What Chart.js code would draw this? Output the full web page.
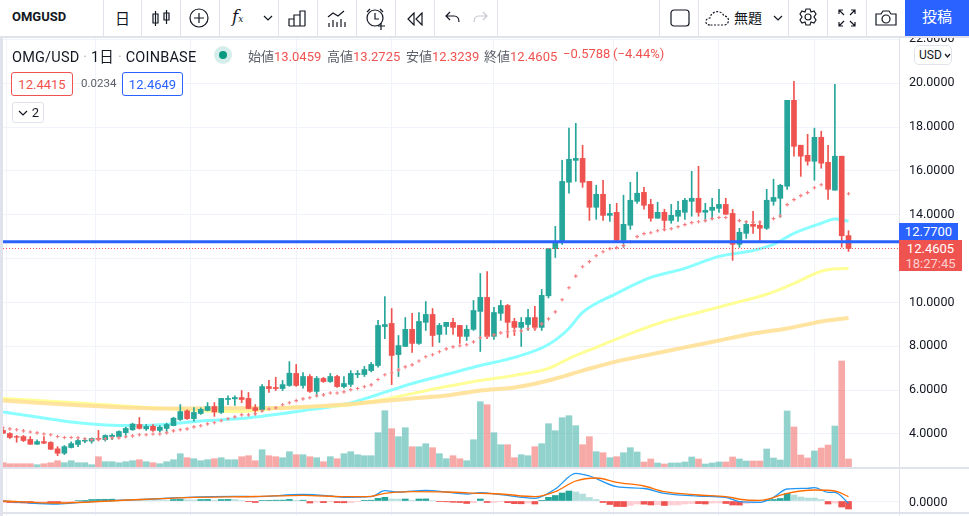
<!DOCTYPE html>
<html lang="ja">

<head>
    <meta charset="utf-8" />
    <title>OMGUSD</title>
    <script src="https://cdn.jsdelivr.net/npm/chart.js"></script>
    <style>
        html, body { margin: 0; padding: 0; background: #fff; overflow: hidden; }
        body { width: 969px; height: 516px; position: relative; font-family: Roboto, "Noto Sans CJK JP", sans-serif; color: #131722; }
        canvas { position: absolute; left: 0; top: 0; }
        .abs { position: absolute; white-space: nowrap; }
        #toolbar { position: absolute; left: 0; top: 0; width: 969px; height: 36px; background: #fff; border-bottom: 2px solid #e0e3eb; }
        .sep { position: absolute; top: 0; width: 1px; height: 36px; background: #e0e3eb; }
        .red { color: #ef5350; }
        .lbl { color: #5d606b; }
        .box { position: absolute; box-sizing: border-box; border-radius: 3px; text-align: center; background: #fff; font-size: 13px; }
        svg { position: absolute; fill: none; stroke: #131722; stroke-width: 1.2; }
    </style>
</head>

<body>
    <canvas id="chart" width="969" height="516"></canvas>

    <div class="abs" style="left:0;top:38px;width:3px;height:478px;background:#e0e3eb"></div>
    <div class="abs" style="left:899px;top:38px;width:1px;height:478px;background:#e0e3eb"></div>
    <div class="abs" style="left:3px;top:467px;width:966px;height:2px;background:#e0e3eb"></div>
    <div class="abs" style="left:3px;top:512px;width:966px;height:2px;background:#e0e3eb"></div>
    <div class="abs" style="left:909px;top:494px;font-size:12.5px;line-height:15px">0.0000</div>

    <div id="toolbar">
        <div class="abs" style="left:12px;top:9px;font-size:13px;font-weight:700">OMGUSD</div>
        <div class="abs" style="left:115px;top:7px;font-size:15px">日</div>
        <div class="sep" style="left:103px"></div><div class="sep" style="left:141px"></div>
        <div class="sep" style="left:180px"></div><div class="sep" style="left:219px"></div>
        <div class="sep" style="left:278px"></div><div class="sep" style="left:317px"></div>
        <div class="sep" style="left:356px"></div><div class="sep" style="left:395px"></div>
        <div class="sep" style="left:434px"></div><div class="sep" style="left:497px"></div>
        <div class="sep" style="left:659px"></div><div class="sep" style="left:698px"></div>
        <div class="sep" style="left:788px"></div><div class="sep" style="left:827px"></div>
        <div class="sep" style="left:866px"></div>

        <svg style="left:152px;top:8px" width="20" height="20"><path d="M3.5 3v15M1 6h5v9H1zM14.5 2v14M12 5h5v7h-5z" /></svg>
        <svg style="left:189px;top:8px" width="21" height="21"><circle cx="10" cy="10" r="9" /><path d="M10 5v10M5 10h10" /></svg>
        <div class="abs" style="left:232px;top:6px;font-size:17px;font-style:italic;font-family:'DejaVu Serif'">f<span style="font-size:9px">x</span></div>
        <svg style="left:263px;top:15px" width="10" height="7"><path d="M1 1l4 4 4-4" /></svg>
        <svg style="left:288px;top:9px" width="20" height="18"><path d="M1 17V10h5v7M6 17V6h6v11M12 17V2h5v15M1 17h16" /></svg>
        <svg style="left:327px;top:8px" width="20" height="20"><path d="M1 9l5-4 5 3 6-5M2 19v-4M6 19v-7M10 19v-5M14 19v-8M18 19v-5" /></svg>
        <svg style="left:365px;top:8px" width="22" height="22"><circle cx="10" cy="10" r="8" /><path d="M10 5v6h4M2 4l3-3M15 1l3 3M16 15v7M13 18h7" /></svg>
        <svg style="left:407px;top:12px" width="17" height="14"><path d="M7 1L1 7l6 6zM15 1L9 7l6 6z" /></svg>
        <svg style="left:445px;top:11px" width="16" height="13"><path d="M5 1L1 5l4 4M1 5h8c3 0 5 2 5 6" /></svg>
        <svg style="left:472px;top:11px;stroke:#c8cad1" width="16" height="13"><path d="M11 1l4 4-4 4M15 5H7c-3 0-5 2-5 6" /></svg>

        <svg style="left:670px;top:9px" width="20" height="19"><rect x="1" y="1" width="18" height="16" rx="3" /></svg>
        <svg style="left:705px;top:9px;stroke-dasharray:2 1.5" width="26" height="18"><path d="M5 16c-6 0-5-7 0-7 1-7 11-9 14-2 6 0 6 9 0 9z" /></svg>
        <div class="abs" style="left:734px;top:7px;font-size:14px">無題</div>
        <svg style="left:773px;top:15px" width="10" height="7"><path d="M1 1l4 4 4-4" /></svg>
        <svg style="left:797px;top:8px" width="22" height="22"><path d="M9 1h4l1 3 3-1 2 3-2 3 2 3-2 3-3-1-1 3H9l-1-3-3 1-2-3 2-3-2-3 2-3 3 1z" /><circle cx="11" cy="9" r="3" /></svg>
        <svg style="left:838px;top:9px" width="18" height="18"><path d="M1 5V1h4M13 1h4v4M17 13v4h-4M5 17H1v-4M1 1l5 5M17 1l-5 5M17 17l-5-5M1 17l5-5" /></svg>
        <svg style="left:875px;top:9px" width="22" height="18"><path d="M1 5h5l2-3h6l2 3h5v11H1z" /><circle cx="11" cy="10" r="4" /></svg>
        <div class="abs" style="left:905px;top:0;width:64px;height:36px;background:#2962ff;color:#fff;text-align:center;font-size:15px;line-height:35px">投稿</div>
    </div>

    <div class="abs" style="left:12px;top:45px;font-size:14.5px;letter-spacing:.2px">OMG/USD <span style="color:#b2b5be">·</span> 1日 <span style="color:#b2b5be">·</span> COINBASE</div>
    <div class="abs" style="left:214px;top:46px;width:18px;height:18px;border-radius:9px;background:#d6eeeb"></div>
    <div class="abs" style="left:219px;top:51px;width:8px;height:8px;border-radius:4px;background:#089981"></div>
    <div class="abs" style="left:248px;top:46px;font-size:13px"><span class="lbl">始値</span><span class="red">13.0459</span></div>
    <div class="abs" style="left:327px;top:46px;font-size:13px"><span class="lbl">高値</span><span class="red">13.2725</span></div>
    <div class="abs" style="left:406px;top:46px;font-size:13px"><span class="lbl">安値</span><span class="red">12.3239</span></div>
    <div class="abs" style="left:484px;top:46px;font-size:13px"><span class="lbl">終値</span><span class="red">12.4605</span></div>
    <div class="abs red" style="left:563px;top:46px;font-size:13px">−0.5788</div>
    <div class="abs red" style="left:613px;top:46px;font-size:13px">(−4.44%)</div>

    <div class="box red" style="left:11px;top:72px;width:62px;height:24px;border:1px solid #ef5350;line-height:23px">12.4415</div>
    <div class="abs lbl" style="left:81px;top:76px;font-size:11.5px">0.0234</div>
    <div class="box" style="left:122px;top:72px;width:61px;height:24px;border:1px solid #2962ff;color:#2962ff;line-height:23px">12.4649</div>
    <div class="box" style="left:12px;top:102px;width:32px;height:21px;border:1px solid #e0e3eb;line-height:20px">
        <svg style="left:5px;top:7px" width="10" height="7"><path d="M1 1l4 4 4-4" /></svg><span style="margin-left:15px">2</span>
    </div>
    <div class="box" style="left:914px;top:45px;width:38px;height:20px;border:1px solid #e0e3eb;border-radius:5px;font-size:12px;line-height:19px;text-align:left;padding-left:4px">USD<svg style="left:29px;top:7px" width="7" height="6"><path d="M1 1l2.5 3L6 1" /></svg></div>

    <div class="abs" style="left:899px;top:223px;width:59px;height:17px;background:#2962ff;color:#fff;font-size:13px;line-height:17px;text-align:center">12.7700</div>
    <div class="abs" style="left:899px;top:240px;width:63px;height:31px;background:#ef5350;color:#fff;font-size:13px;line-height:15px;text-align:center;padding-top:1px;box-sizing:border-box">12.4605<br><span style="color:#fbd0cf">18:27:45</span></div>

    <script>
        var opens = [4.16, 4.02, 3.88, 3.88, 3.75, 3.53, 3.65, 3.61, 3.32, 3.12,
            3.38, 3.52, 3.67, 3.67, 3.79, 3.74, 3.88, 3.88, 4.06, 4.19,
            4.43, 4.23, 4.35, 4.16, 4.25, 4.38, 4.66, 5.05, 4.70, 4.93,
            5.07, 5.25, 4.98, 5.57, 5.60, 5.66, 5.62, 5.20, 5.11, 6.16,
            6.12, 6.07, 6.21, 6.76, 6.21, 6.62, 5.94, 6.53, 6.39, 6.62,
            6.16, 6.26, 6.71, 6.71, 6.89, 7.12, 8.90, 9.04, 7.62, 7.99,
            8.77, 8.13, 9.09, 9.45, 8.54, 8.90, 9.09, 8.95, 8.45, 8.77,
            9.59, 10.23, 8.45, 9.50, 9.86, 9.13, 8.86, 8.99, 9.31, 8.86,
            10.30, 12.45, 12.74, 15.48, 16.48, 16.57, 15.52, 14.34, 14.93, 13.97,
            14.11, 12.83, 13.52, 14.61, 15.02, 14.47, 13.84, 14.11, 13.74, 13.93,
            14.11, 14.61, 14.75, 14.11, 14.20, 14.29, 14.47, 14.06, 12.65, 13.15,
            13.56, 13.52, 13.38, 14.61, 14.75, 15.30, 19.22, 17.17, 16.71, 16.44,
            17.53, 16.39, 15.12, 16.67, 13.0459];
        var highs = [4.23, 4.06, 3.93, 3.93, 3.88, 3.73, 3.88, 3.65, 3.42, 3.47,
            3.64, 3.75, 3.80, 3.82, 4.16, 3.96, 4.00, 4.14, 4.31, 4.49,
            4.75, 4.43, 4.43, 4.38, 4.49, 4.76, 5.34, 5.10, 5.20, 5.19,
            5.43, 5.43, 5.62, 5.74, 5.74, 5.98, 5.89, 5.34, 6.25, 6.44,
            6.58, 6.44, 7.30, 7.17, 6.80, 6.71, 6.62, 6.58, 6.76, 6.67,
            6.62, 6.89, 6.89, 7.08, 7.26, 9.18, 10.27, 9.72, 8.49, 9.31,
            9.50, 9.54, 10.04, 9.72, 9.04, 9.09, 9.27, 8.95, 8.95, 10.09,
            11.32, 11.41, 9.77, 10.09, 9.91, 9.27, 9.31, 9.68, 9.82, 10.59,
            12.45, 13.47, 16.48, 17.95, 18.17, 17.17, 15.52, 15.34, 15.57, 14.47,
            14.52, 14.89, 15.48, 15.94, 15.25, 14.70, 14.57, 14.25, 14.47, 14.61,
            14.75, 15.98, 16.21, 14.52, 14.75, 15.16, 14.75, 14.25, 13.38, 13.70,
            14.16, 13.70, 15.16, 15.62, 15.39, 19.22, 20.09, 17.17, 17.67, 17.95,
            17.81, 17.17, 19.95, 16.67, 13.2725];
        var lows = [4.03, 3.79, 3.62, 3.65, 3.52, 3.52, 3.55, 3.29, 3.01, 3.06,
            3.36, 3.42, 3.60, 3.58, 3.70, 3.67, 3.74, 3.88, 3.85, 4.16,
            4.22, 4.16, 4.11, 4.08, 4.08, 4.37, 4.61, 4.66, 4.58, 4.89,
            5.05, 4.80, 4.93, 5.34, 5.30, 5.43, 5.16, 4.86, 5.01, 5.89,
            5.98, 5.98, 6.17, 6.17, 6.09, 5.89, 5.71, 6.35, 6.35, 6.12,
            6.10, 6.16, 6.57, 6.62, 6.83, 7.05, 8.35, 6.25, 6.62, 7.99,
            7.72, 8.08, 8.72, 7.99, 8.17, 8.54, 8.54, 8.13, 8.26, 8.72,
            7.76, 8.35, 8.31, 9.18, 8.40, 8.49, 7.99, 8.72, 8.72, 8.72,
            10.20, 12.05, 12.65, 14.98, 15.52, 15.25, 13.74, 13.79, 13.74, 13.70,
            12.83, 12.51, 13.33, 14.52, 14.25, 13.70, 13.84, 13.29, 13.61, 13.70,
            13.79, 13.93, 13.93, 13.70, 13.79, 14.11, 14.02, 11.92, 12.51, 12.92,
            13.15, 12.83, 13.33, 14.43, 13.88, 15.16, 16.67, 15.75, 16.26, 15.57,
            16.12, 14.70, 15.12, 12.52, 12.3239];
        var closes = [4.03, 3.84, 3.85, 3.70, 3.53, 3.65, 3.58, 3.30, 3.12, 3.42,
            3.56, 3.70, 3.71, 3.79, 3.76, 3.93, 3.94, 4.11, 4.25, 4.45,
            4.25, 4.34, 4.16, 4.31, 4.43, 4.72, 5.02, 4.70, 4.98, 5.12,
            5.25, 5.00, 5.62, 5.62, 5.66, 5.57, 5.16, 5.07, 6.16, 6.07,
            6.07, 6.25, 6.77, 6.21, 6.62, 5.94, 6.53, 6.39, 6.62, 6.16,
            6.30, 6.76, 6.76, 6.94, 7.17, 8.95, 8.99, 7.58, 8.03, 8.77,
            8.13, 9.13, 9.45, 8.49, 8.95, 9.09, 8.86, 8.45, 8.77, 9.63,
            10.23, 8.45, 9.54, 9.86, 9.09, 8.86, 9.09, 9.31, 8.86, 10.32,
            12.45, 12.74, 15.52, 16.53, 16.57, 15.48, 14.34, 14.93, 13.97, 14.06,
            12.83, 13.56, 14.66, 14.98, 14.43, 13.84, 14.11, 13.74, 13.97, 14.20,
            14.66, 14.75, 14.11, 14.20, 14.34, 14.47, 14.02, 12.65, 13.20, 13.56,
            13.47, 13.38, 14.66, 14.79, 15.34, 19.22, 17.12, 16.67, 16.44, 17.53,
            16.35, 15.16, 16.67, 13.04, 12.4605];
        var volumes = [5.3, 4.3, 4.3, 4.3, 4.3, 3.3, 4.3, 5.3, 7.3, 5.3,
            7.3, 5.3, 5.3, 3.3, 11.3, 6.3, 6.3, 5.3, 6.3, 7.3,
            8.3, 6.3, 5.3, 4.3, 6.3, 8.3, 14.3, 10.3, 9.3, 7.3,
            8.3, 9.3, 10.3, 8.3, 8.3, 11.3, 12.3, 7.3, 18.3, 12.3,
            11.3, 10.3, 16.3, 13.3, 13.3, 11.3, 10.3, 6.3, 11.3, 9.3,
            14.3, 16.3, 13.3, 12.3, 12.3, 35.3, 57.3, 39.3, 31.3, 40.3,
            21.3, 21.3, 24.3, 20.3, 14.3, 9.3, 12.3, 9.3, 7.3, 28.3,
            66.3, 63.3, 35.3, 23.3, 23.3, 10.3, 13.3, 12.3, 21.3, 24.3,
            44.3, 37.3, 50.3, 52.3, 42.3, 23.3, 31.3, 16.3, 15.3, 10.3,
            11.3, 15.3, 20.3, 16, 6, 9, 5, 4, 5, 5,
            6, 11, 9, 4, 5, 6, 6, 11, 9, 7,
            7, 7, 19, 10, 8, 57, 41, 13, 10, 17,
            20, 23, 42, 107, 9];
        var sar = [4.28, 4.23, 4.19, 4.14, 4.09, 4.05, 4.00, 3.96, 3.88, 3.84,
            3.84, 3.82, 3.78, 3.74, 3.74, 3.78, 3.82, 3.82, 3.87, 3.91,
            3.96, 3.96, 4.00, 4.00, 4.05, 4.14, 4.19, 4.23, 4.32, 4.37,
            4.46, 4.51, 4.60, 4.69, 4.78, 4.87, 4.87, 4.92, 5.05, 5.14,
            5.19, 5.33, 5.42, 5.52, 5.60, 5.65, 5.74, 5.78, 5.87, 5.87,
            5.92, 6.02, 6.07, 6.15, 6.24, 6.48, 6.70, 6.79, 6.92, 7.06,
            7.15, 7.33, 7.52, 7.61, 7.75, 7.88, 7.97, 8.02, 8.07, 8.20,
            8.39, 8.43, 8.52, 8.61, 8.66, 8.70, 8.70, 8.80, 8.80, 9.02,
            9.25, 9.57, 10.12, 10.67, 11.20, 11.63, 11.86, 12.13, 12.31, 12.45,
            12.50, 12.59, 12.77, 13.00, 13.14, 13.18, 13.27, 13.32, 13.36, 13.45,
            13.55, 13.64, 13.68, 13.73, 13.82, 13.87, 13.87, null, 13.73, 13.68,
            13.65, 13.67, null, 13.82, 13.94, 14.46, 14.69, 14.87, 15.01, 15.23,
            15.37, null, null, null, 14.96];
        var macdHist = [-1.0, -1.6, -1.8, -2.0, -2.2, -1.5, -1.2, -2.0, -2.2, -1.8,
            -0.7, 0.5, 0.7, 1.5, 1.6, 1.7, 1.8, 1.2, 1.1, 1.0,
            0.8, 0.7, 0.6, 0.5, 0.4, 1.5, 1.6, 1.2, 1.0, 1.5,
            1.6, 0.6, 1.5, 1.6, 1.4, 0.5, -0.7, -1.5, 0.6, 0.7,
            0.8, 0.9, 1.6, 0.7, 0.8, -2.0, -1.0, -1.7, -0.7, -1.7,
            -1.8, -1.6, -0.7, 0.7, 0.8, 2.7, 3.7, 2.0, 1.9, 2.0,
            0.7, 2.0, 2.1, 0.5, -0.7, -0.8, -1.3, -1.5, -2.5, -1.7,
            2.0, -1.5, -1.4, -0.7, -1.7, -2.7, -2.8, -2.0, -3.0, 0.7,
            3.7, 5.5, 8.0, 10.0, 9.0, 7.0, 3.5, 1.5, -1.5, -3.5,
            -5.5, -5.6, -4.5, -3.0, -3.2, -4.0, -3.8, -4.5, -4.0, -3.9,
            -3.0, -2.5, -2.6, -3.0, -2.0, -1.9, -2.5, -4.0, -4.1, -2.5,
            -2.0, -1.0, 0.7, 1.5, 2.5, 7.5, 6.0, 4.0, 3.0, 2.9,
            1.5, -3.0, -2.0, -6.0, -8.0];

        var cyanDays = [0, 5, 10, 15, 20, 25, 30, 35, 40, 45, 50, 55, 60, 65, 70, 75, 80, 83, 85, 90, 95, 100, 105, 110, 113, 116, 120, 122, 124];
        var cyanMa = [5.0, 4.77, 4.54, 4.41, 4.38, 4.47, 4.61, 4.70, 4.89, 5.11, 5.34, 5.80, 6.30, 6.71, 7.12, 7.49, 8.08, 8.81, 9.54, 10.41, 11.14, 11.55, 12.10, 12.37, 12.65, 13.15, 13.61, 13.80, 13.71];
        var yellowDays = [0, 10, 20, 30, 35, 40, 45, 50, 55, 60, 65, 70, 75, 80, 83, 87, 92, 97, 102, 107, 112, 116, 120, 122, 124];
        var yellowMa = [5.62, 5.43, 5.23, 5.05, 5.02, 5.16, 5.25, 5.30, 5.53, 5.84, 6.16, 6.44, 6.67, 6.99, 7.44, 7.95, 8.58, 9.13, 9.54, 9.95, 10.37, 10.87, 11.42, 11.53, 11.55];
        var orangeDays = [0, 8, 15, 25, 40, 50, 55, 60, 65, 70, 75, 80, 85, 90, 95, 100, 105, 110, 115, 120, 124];
        var orangeMa = [5.53, 5.36, 5.25, 5.16, 5.18, 5.34, 5.48, 5.62, 5.75, 5.98, 6.12, 6.44, 6.89, 7.31, 7.63, 7.95, 8.26, 8.58, 8.81, 9.13, 9.29];
        var macdDays = [0, 4, 8, 12, 17, 22, 27, 34, 37, 44, 48, 50, 54, 56, 58, 62, 65, 68, 70, 73, 78, 81, 84, 86, 90, 94, 97, 102, 106, 108, 111, 113, 115, 118, 119, 121, 122, 124];
        var macdLine = [0, -2, -3, -1, 0.7, 2, 3.7, 4.7, 4.3, 6.5, 5, 3.7, 4.3, 10.3, 9, 10.7, 9, 7, 8.3, 6.3, 2.7, 12, 27.7, 25, 14.3, 12.5, 7.7, 5, 3.7, -0.7, -1.3, 3.7, 12, 12.7, 13.3, 8.7, 8.7, -2.3];
        var signalDays = [0, 8, 17, 27, 37, 44, 50, 54, 56, 60, 65, 70, 73, 78, 81, 84, 87, 90, 94, 97, 102, 106, 109, 111, 115, 119, 122, 124];
        var signalLine = [0, -2, 0.5, 3.3, 4.5, 5.7, 4.3, 4.7, 7.7, 9.3, 9, 7.7, 7, 4.3, 9.3, 20, 23, 18.7, 15, 9.3, 6, 4.3, 1, 0.7, 7.7, 11, 10, 4.3];

        var priceTicks = [4, 6, 8, 10, 12, 14, 16, 18, 20, 22];
        var gridDays = [7, 20, 35, 51, 63, 81, 98, 112, 126];
        var markedPrice = 12.77;
        var lastClose = 12.4605;

        var green = '#26a69a', red = '#ef5350';
        var xMax = 131.55;

        function pairs(days, values) {
            return days.map(function (d, i) { return { x: d, y: values[i] }; });
        }

        function histColor(ctx) {
            var i = ctx.dataIndex;
            var v = macdHist[i], prev = i > 0 ? macdHist[i - 1] : 0;
            if (v >= 0) return v >= prev ? green : '#b2dfdb';
            return v < prev ? red : '#ffcdd2';
        }

        function isUp(i) { return closes[i] >= opens[i]; }

        function maLine(days, values, color, width) {
            return {
                type: 'line', yAxisID: 'y', order: 5, data: pairs(days, values),
                borderColor: color, borderWidth: width, pointRadius: 0, cubicInterpolationMode: 'monotone'
            };
        }

        function fixedTicks(values) {
            return function (axis) { axis.ticks = values.map(function (v) { return { value: v }; }); };
        }

        var datasets = [
            {
                type: 'bar', yAxisID: 'vol', order: 9, barThickness: 6,
                data: volumes.map(function (v, i) { return { x: i, y: v }; }),
                backgroundColor: volumes.map(function (v, i) { return isUp(i) ? 'rgba(38,166,154,.5)' : 'rgba(239,83,80,.5)'; })
            },
            {
                type: 'bar', yAxisID: 'macd', order: 8, barThickness: 6,
                data: macdHist.map(function (v, i) { return { x: i, y: v }; }),
                backgroundColor: histColor
            },
            maLine(orangeDays, orangeMa, 'rgba(255,224,150,.9)', 4),
            maLine(yellowDays, yellowMa, 'rgba(255,255,141,.9)', 3),
            maLine(cyanDays, cyanMa, 'rgba(132,255,255,.95)', 3),
            {
                type: 'line', yAxisID: 'macd', order: 6, data: pairs(macdDays, macdLine),
                borderColor: '#2196f3', borderWidth: 1.3, pointRadius: 0, cubicInterpolationMode: 'monotone'
            },
            {
                type: 'line', yAxisID: 'macd', order: 5, data: pairs(signalDays, signalLine),
                borderColor: '#ff6d00', borderWidth: 1.3, pointRadius: 0, cubicInterpolationMode: 'monotone'
            },
            {
                type: 'bar', yAxisID: 'y', order: 4, barThickness: 1,
                data: highs.map(function (h, i) { return { x: i, y: [lows[i], h] }; }),
                backgroundColor: highs.map(function (h, i) { return isUp(i) ? green : red; })
            },
            {
                type: 'bar', yAxisID: 'y', order: 3, barThickness: 5,
                data: opens.map(function (o, i) { return { x: i, y: [o, closes[i]] }; }),
                backgroundColor: opens.map(function (o, i) { return isUp(i) ? green : red; })
            },
            {
                type: 'line', yAxisID: 'y', order: 2, showLine: false,
                data: sar.map(function (v, i) { return { x: i, y: v }; }),
                pointStyle: 'cross', pointRadius: 1.8, pointBorderWidth: 1.1, pointBorderColor: '#f77c80'
            },
            {
                type: 'line', yAxisID: 'y', order: 1, data: [{ x: 0, y: lastClose }, { x: xMax, y: lastClose }],
                borderColor: red, borderWidth: 1, borderDash: [1, 2], pointRadius: 0
            },
            {
                type: 'line', yAxisID: 'y', order: 0, data: [{ x: 0, y: markedPrice }, { x: xMax, y: markedPrice }],
                borderColor: '#2962ff', borderWidth: 3, pointRadius: 0
            }
        ];

        new Chart(document.getElementById('chart'), {
            data: { datasets: datasets },
            options: {
                responsive: false,
                animation: false,
                devicePixelRatio: 1,
                layout: { autoPadding: false, padding: { left: 3, top: 38, right: 0, bottom: 0 } },
                plugins: { legend: { display: false }, tooltip: { enabled: false } },
                datasets: { bar: { grouped: false } },
                scales: {
                    x: {
                        type: 'linear', offset: false, min: 0, max: xMax,
                        afterBuildTicks: fixedTicks(gridDays),
                        afterFit: function (axis) { axis.height = 0; },
                        ticks: { display: false },
                        border: { display: false },
                        grid: { color: '#f0f3fa', drawTicks: false }
                    },
                    y: {
                        position: 'right', weight: 1, min: 0.256, max: 22.062,
                        afterBuildTicks: fixedTicks(priceTicks),
                        afterFit: function (axis) {
                            axis.width = 69;
                            axis.paddingTop = 0;
                            axis.paddingBottom = 0;
                        },
                        ticks: {
                            padding: 9, font: { family: 'Roboto', size: 12.5 }, color: '#131722',
                            callback: function (v) { return v === 12 ? '' : v.toFixed(4); }
                        },
                        border: { display: false },
                        grid: { color: '#f0f3fa', drawTicks: false }
                    },
                    macd: {
                        position: 'right', weight: 0, min: -15, max: 463,
                        afterBuildTicks: fixedTicks([0]),
                        afterFit: function (axis) { axis.width = 0; },
                        ticks: { display: false },
                        border: { display: false },
                        grid: { color: '#f0f3fa', drawTicks: false }
                    },
                    vol: {
                        display: false, position: 'left', min: -48, max: 430
                    }
                }
            }
        });
    </script>
</body>
</html>
